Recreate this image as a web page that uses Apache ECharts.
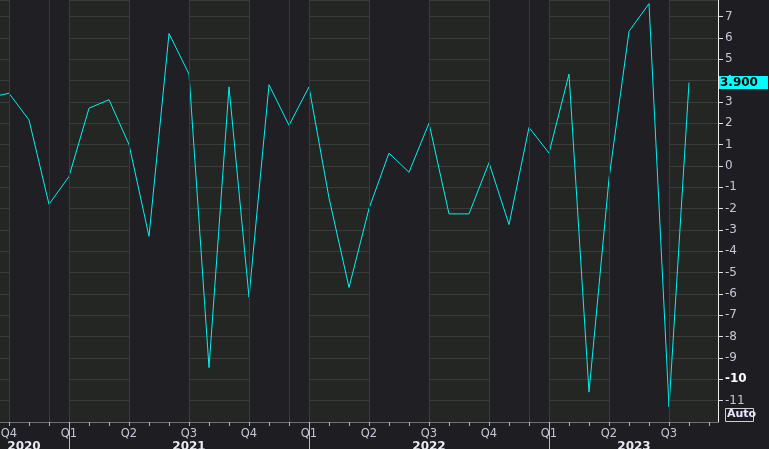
<!DOCTYPE html>
<html lang="en">
<head>
    <meta charset="UTF-8">
    <title>Monthly change</title>
    <script src="https://cdn.jsdelivr.net/npm/echarts@6/dist/echarts.min.js"></script>
    <style>
        html, body { margin: 0; padding: 0; background: #1e1d21; }
        #chart { width: 769px; height: 449px; }
    </style>
</head>
<body>
<div id="chart"></div>
<script type="text/javascript">

    // monthly observations, Sep 2020 .. Aug 2023
    var months = [
        '2020-09', '2020-10', '2020-11', '2020-12',
        '2021-01', '2021-02', '2021-03', '2021-04', '2021-05', '2021-06',
        '2021-07', '2021-08', '2021-09', '2021-10', '2021-11', '2021-12',
        '2022-01', '2022-02', '2022-03', '2022-04', '2022-05', '2022-06',
        '2022-07', '2022-08', '2022-09', '2022-10', '2022-11', '2022-12',
        '2023-01', '2023-02', '2023-03', '2023-04', '2023-05', '2023-06',
        '2023-07', '2023-08'
    ];
    var values = [
        3.2, 3.4, 2.15, -1.8,
        -0.5, 2.7, 3.1, 1.0, -3.3, 6.2,
        4.3, -9.45, 3.7, -6.15, 3.8, 1.9,
        3.7, -1.5, -5.7, -2.0, 0.6, -0.3,
        2.0, -2.25, -2.25, 0.15, -2.75, 1.8,
        0.6, 4.3, -10.6, -0.6, 6.3, 7.6,
        -11.3, 3.9
    ];
    var quarterNames = {'01': 'Q1', '04': 'Q2', '07': 'Q3', '10': 'Q4'};
    var shadedQuarters = ['04', '10'];
    var extraGridMonths = ['12'];
    // year labels on the lower row, positioned in month-index units
    var yearNames = ['2020', '2021', '2022', '2023'];
    var yearLabelPos = [1.75, 10, 22, 32.25];

    var lastValue = values[values.length - 1];
    var labelColor = '#c4c7d8';
    var gridColor = '#3a3b3b';

    function mm(s) { return s.slice(5, 7); }

    var lineData = values.map(function (v, i) { return [i, v]; });

    var monthTicks = [];
    var quarterTicks = [];
    var janTicks = [];
    var bands = [];
    var vlines = [];
    months.forEach(function (m, i) {
        if (i > 0) monthTicks.push(i);
        if (quarterNames[mm(m)]) quarterTicks.push(i);
        if (mm(m) === '01') janTicks.push(i);
        if (shadedQuarters.indexOf(mm(m)) >= 0) {
            bands.push([{xAxis: i}, {xAxis: i + 3}]);
        }
        if (quarterNames[mm(m)] || extraGridMonths.indexOf(mm(m)) >= 0) {
            vlines.push({xAxis: i});
        }
    });
    monthTicks.push(months.length);

    var chart = echarts.init(document.getElementById('chart'));

    var option = {
        backgroundColor: '#1e1d21',
        animation: false,
        textStyle: {fontFamily: 'DejaVu Sans'},
        grid: {
            left: 0, right: 51, top: 0, bottom: 27,
            outerBoundsMode: 'none',
            containLabel: false,
            show: true, backgroundColor: '#242623', borderWidth: 0
        },
        xAxis: [
            {
                type: 'value',
                position: 'bottom',
                min: 0.55,
                max: 36.45,
                axisLine: {show: true, onZero: false, lineStyle: {color: '#707074', width: 1}},
                axisTick: {show: true, length: 4, customValues: monthTicks, lineStyle: {color: '#b0b0b8'}},
                splitLine: {show: false},
                axisLabel: {
                    color: labelColor,
                    fontSize: 11.5,
                    margin: 6,
                    customValues: quarterTicks,
                    formatter: function (v) {
                        var m = months[Math.round(v)];
                        return m ? quarterNames[mm(m)] : '';
                    }
                }
            },
            {
                type: 'value',
                position: 'bottom',
                offset: 0,
                min: 0.55,
                max: 36.45,
                axisLine: {show: false, onZero: false},
                axisTick: {show: true, length: 27, customValues: janTicks, lineStyle: {color: '#b8b8c0'}},
                splitLine: {show: false},
                axisLabel: {
                    color: '#e8e8f2',
                    fontWeight: 'bold',
                    fontSize: 12,
                    margin: 19,
                    customValues: yearLabelPos,
                    formatter: function (v) {
                        return yearNames[yearLabelPos.indexOf(v)] || '';
                    }
                }
            }
        ],
        yAxis: {
            type: 'value',
            position: 'right',
            min: -12,
            max: 7.77,
            interval: 1,
            axisLine: {show: true, lineStyle: {color: '#f0f0f0', width: 1}},
            axisTick: {show: true, length: 5, lineStyle: {color: '#e0e0e0'}},
            splitLine: {show: true, lineStyle: {color: gridColor, width: 1}},
            axisLabel: {
                color: labelColor,
                fontSize: 12,
                margin: 7,
                showMinLabel: false,
                showMaxLabel: false,
                formatter: function (v) { return v === -10 ? '{b|-10}' : String(v); },
                rich: {b: {color: '#ffffff', fontWeight: 'bold', fontSize: 12}}
            },
            axisPointer: {
                show: true,
                status: 'show',
                value: lastValue,
                triggerTooltip: false,
                lineStyle: {opacity: 0},
                label: {
                    show: true,
                    margin: 1,
                    backgroundColor: '#00ffff',
                    color: '#000000',
                    fontWeight: 'bold',
                    fontSize: 12,
                    padding: [1, 10, 0, 1],
                    borderRadius: 0,
                    shadowBlur: 0,
                    formatter: function (p) { return Number(p.value).toFixed(3); }
                }
            }
        },
        graphic: [
            {type: 'rect', shape: {x: 725.5, y: 408.5, width: 28, height: 13}, style: {fill: 'none', stroke: '#d0d0d8', lineWidth: 1}},
            {type: 'text', x: 727, y: 409, style: {text: 'Auto', fill: '#e6e6ff', font: 'bold 11px DejaVu Sans'}}
        ],
        series: [
            {
                type: 'line',
                data: lineData,
                showSymbol: false,
                lineStyle: {color: '#00f2f2', width: 1},
                itemStyle: {color: '#00f2f2'},
                markArea: {
                    silent: true,
                    itemStyle: {color: '#201f23'},
                    data: bands
                },
                markLine: {
                    silent: true,
                    symbol: 'none',
                    label: {show: false},
                    lineStyle: {color: gridColor, type: 'solid', width: 1},
                    data: vlines
                }
            }
        ]
    };

    chart.setOption(option);

</script>
</body>
</html>
